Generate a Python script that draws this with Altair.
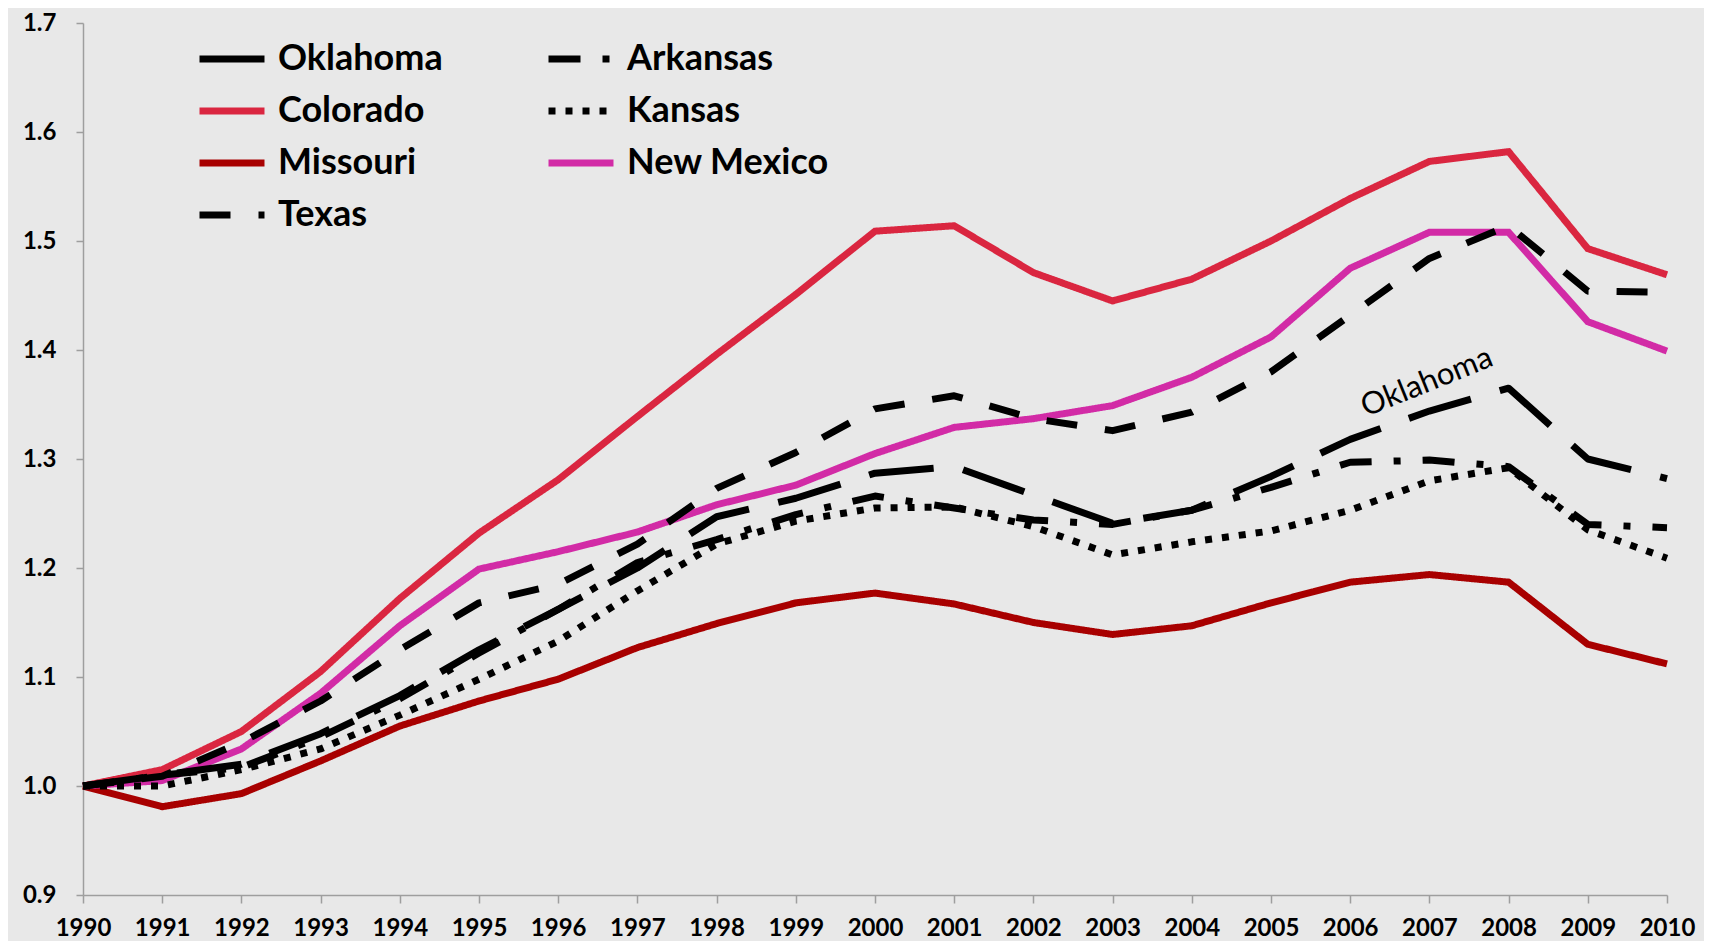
import altair as alt
import pandas as pd

years = list(range(1990, 2011))

oklahoma = [1.000, 1.010, 1.020, 1.048, 1.083, 1.125, 1.162, 1.200, 1.247, 1.264, 1.287,
            1.293, 1.267, 1.241, 1.253, 1.284, 1.318, 1.344, 1.365, 1.300, 1.282]
arkansas = [1.000, 1.010, 1.017, 1.045, 1.080, 1.122, 1.162, 1.205, 1.226, 1.249, 1.266,
            1.255, 1.244, 1.240, 1.253, 1.274, 1.297, 1.299, 1.293, 1.240, 1.237]
colorado = [1.000, 1.015, 1.050, 1.105, 1.172, 1.232, 1.281, 1.339, 1.396, 1.451, 1.509,
            1.514, 1.471, 1.445, 1.465, 1.500, 1.539, 1.573, 1.582, 1.493, 1.469]
kansas = [1.000, 1.000, 1.015, 1.034, 1.065, 1.098, 1.133, 1.179, 1.222, 1.243, 1.255,
          1.256, 1.238, 1.212, 1.224, 1.234, 1.253, 1.280, 1.292, 1.235, 1.209]
missouri = [1.000, 0.981, 0.993, 1.023, 1.055, 1.078, 1.098, 1.127, 1.149, 1.168, 1.177,
            1.167, 1.150, 1.139, 1.147, 1.168, 1.187, 1.194, 1.187, 1.130, 1.112]
new_mexico = [1.000, 1.005, 1.034, 1.085, 1.147, 1.199, 1.215, 1.233, 1.258, 1.276, 1.305,
              1.329, 1.337, 1.349, 1.375, 1.412, 1.475, 1.508, 1.508, 1.426, 1.399]
texas = [1.000, 1.009, 1.040, 1.078, 1.125, 1.168, 1.185, 1.222, 1.273, 1.306, 1.346,
         1.358, 1.337, 1.326, 1.343, 1.380, 1.432, 1.484, 1.514, 1.454, 1.453]

# legend order (column by column): Oklahoma, Colorado, Missouri, Texas | Arkansas, Kansas, New Mexico
states = ["Oklahoma", "Colorado", "Missouri", "Texas", "Arkansas", "Kansas", "New Mexico"]
series = [oklahoma, colorado, missouri, texas, arkansas, kansas, new_mexico]
colors = ["#000000", "#da2640", "#a80000", "#000000", "#000000", "#000000", "#d22ba6"]
dashes = [[65, 30], [1, 0], [1, 0], [31, 28], [32, 22, 7, 22], [7, 10], [1, 0]]
solid_states = ["Colorado", "Missouri", "New Mexico"]

y_ticks = [0.9, 1.0, 1.1, 1.2, 1.3, 1.4, 1.5, 1.6, 1.7]

note_x = [2006.97]
note_y = [1.370]
note_text = ["Oklahoma"]

rows = []
for name, vals in zip(states, series):
    for yr, v in zip(years, vals):
        rows.append({"Year": yr, "Value": v, "State": name})
df = pd.DataFrame(rows)
notes = pd.DataFrame({"x": note_x, "y": note_y, "t": note_text})

FONT = "Lato"
AXIS_GREY = "#9e9e9e"

x_enc = alt.X("Year:Q",
              scale=alt.Scale(domain=[1990, 2010], nice=False, zero=False),
              axis=alt.Axis(values=years, format="d", title=None, grid=False,
                            labelFont=FONT, labelFontSize=24, labelFontWeight="bold",
                            labelColor="#000000", labelPadding=13, labelFlush=False,
                            labelOverlap=False, tickSize=8, tickColor=AXIS_GREY,
                            domainColor=AXIS_GREY, domainWidth=1.5, tickWidth=1.5))
y_enc = alt.Y("Value:Q",
              scale=alt.Scale(domain=[0.9, 1.7], nice=False, zero=False),
              axis=alt.Axis(values=y_ticks, format=".1f", title=None, grid=False,
                            labelFont=FONT, labelFontSize=24, labelFontWeight="bold",
                            labelColor="#000000", labelPadding=20, tickSize=7,
                            tickColor=AXIS_GREY, domainColor=AXIS_GREY,
                            domainWidth=1.5, tickWidth=1.5))


def make_legend():
    return alt.Legend(title=None, orient="none", legendX=129, legendY=16,
                      columns=2, symbolType="M-2,0H2", symbolSize=1056,
                      symbolStrokeWidth=7, labelFont=FONT, labelFontSize=36,
                      labelFontWeight="bold", labelColor="#000000",
                      labelOffset=26, rowPadding=14, columnPadding=91,
                      padding=0, labelLimit=400)


color_enc = alt.Color("State:N", scale=alt.Scale(domain=states, range=colors),
                      sort=states, legend=make_legend())
dash_enc = alt.StrokeDash("State:N", scale=alt.Scale(domain=states, range=dashes),
                          sort=states, legend=make_legend())

base = alt.Chart(df).encode(x=x_enc, y=y_enc, color=color_enc, strokeDash=dash_enc,
                            detail="State:N")

solid = base.transform_filter(
    alt.FieldOneOfPredicate(field="State", oneOf=solid_states)
).mark_line(strokeWidth=7, strokeCap="butt", strokeJoin="miter")

black = base.transform_filter(
    ~alt.FieldOneOfPredicate(field="State", oneOf=solid_states)
).mark_line(strokeWidth=7, strokeCap="butt", strokeJoin="round")

note = alt.Chart(notes).mark_text(font=FONT, fontSize=31, angle=338, color="#000000",
                                  align="center", baseline="middle").encode(
    x=alt.X("x:Q"), y=alt.Y("y:Q"), text="t:N")

chart = alt.layer(solid, black, note).properties(
    width=1584, height=872,
    autosize=alt.AutoSizeParams(type="none"),
    padding={"left": 75, "top": 15, "right": 37, "bottom": 46},
    background="#e8e8e8",
).configure_view(stroke=None, fill="#e8e8e8")

chart.save("out.html", embed_options={"renderer": "svg", "actions": False})
